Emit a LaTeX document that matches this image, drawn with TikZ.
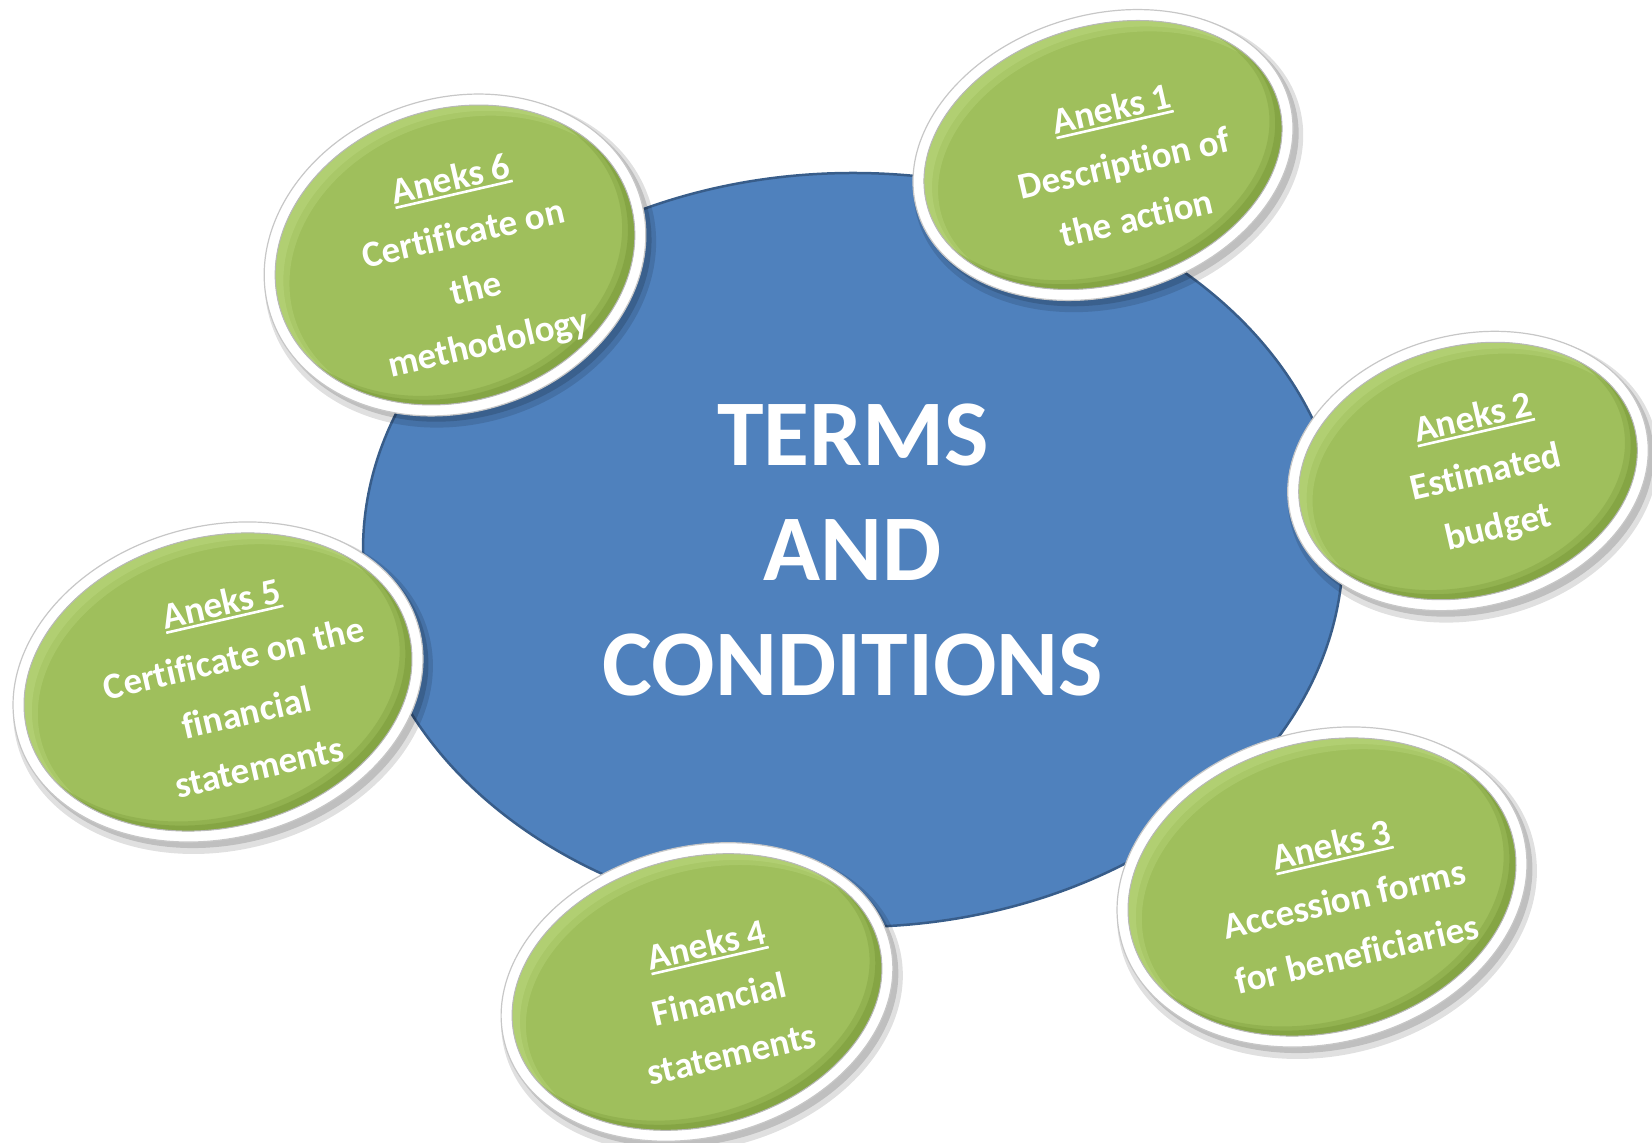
\documentclass[tikz,border=0pt]{standalone}
\usepackage{fontspec}
\setmainfont{Carlito}[Ligatures=NoCommon]
\usetikzlibrary{shapes.geometric}
\definecolor{termsblue}{HTML}{4F81BD}
\definecolor{termsedge}{HTML}{385D8A}
\definecolor{greenmain}{HTML}{9FBF5C}
\definecolor{greendark}{HTML}{7A9A3A}
\definecolor{greenlight}{HTML}{BCD980}
\newcommand\anekul[1]{\setbox0=\hbox{#1}\rlap{\rule[-5pt]{\wd0}{2.6pt}}\box0}
\newcommand\greenoval[5]{%
  \begin{scope}[shift={(#1,#2)},rotate=#5]
    \fill[black,opacity=0.12] (3,-8) ellipse ({#3+5} and {#4+5});
    \fill[black,opacity=0.15] (3,-6) ellipse ({#3+1} and {#4+1});
    \fill[white,draw=black!22,line width=1.2] (0,0) ellipse ({#3} and {#4});
    \begin{scope}
      \clip (0,0) ellipse ({#3-11} and {#4-11});
      \fill[greenmain] (0,0) ellipse ({#3-11} and {#4-11});
      \draw[greenlight,line width=22,opacity=0.35] (9,-12) ellipse ({#3-2} and {#4-2});
      \draw[greenlight,line width=10,opacity=0.45] (6,-8) ellipse ({#3-6} and {#4-6});
      \draw[greendark,line width=22,opacity=0.35] (-8,10) ellipse ({#3-2} and {#4-2});
      \draw[greendark,line width=10,opacity=0.5] (-5,7) ellipse ({#3-6} and {#4-6});
    \end{scope}
    \draw[black!28,line width=1] (0,0) ellipse ({#3-11} and {#4-11});
  \end{scope}}
\tikzset{
  ovaltext/.style={text=white,font=\fontsize{37}{56}\selectfont\bfseries,
    align=center,inner sep=0pt,rotate=13},
  centeroval/.style={ellipse,fill=termsblue,draw=termsedge,line width=2.5pt,
    minimum width=980pt,minimum height=754pt,inner sep=0pt,text=white,
    font=\fontsize{94}{115}\selectfont\bfseries,align=center}
}
\begin{document}
\begin{tikzpicture}[x=1pt,y=1pt]
\useasboundingbox (0,0) rectangle (1652,1143);
\node[centeroval] (terms) at (853,593) {TERMS\\AND\\CONDITIONS};
% ovals
\greenoval{1103}{988}{194}{140}{17}
\greenoval{1468}{672}{183}{136}{15}
\greenoval{1322}{256}{208}{156}{15}
\greenoval{697}{151}{199}{145}{15}
\greenoval{218}{461}{208}{156}{15}
\greenoval{455}{888}{194}{157}{18}
% texts
\node[ovaltext] (a1) at (1124,980) {\anekul{Aneks 1}\\Description of\\the action};
\node[ovaltext] (a2) at (1486,669) {\anekul{Aneks 2}\\Estimated\\budget};
\node[ovaltext] (a3) at (1344,244) {\anekul{Aneks 3}\\Accession forms\\for beneficiaries};
\node[ovaltext] (a4) at (719,144) {\anekul{Aneks 4}\\Financial\\statements};
\node[ovaltext] (a5) at (240,458) {\anekul{Aneks 5}\\Certificate on the\\financial\\statements};
\node[ovaltext] (a6) at (470,880) {\anekul{Aneks 6}\\Certificate on\\the\\methodology};
\end{tikzpicture}
\end{document}
